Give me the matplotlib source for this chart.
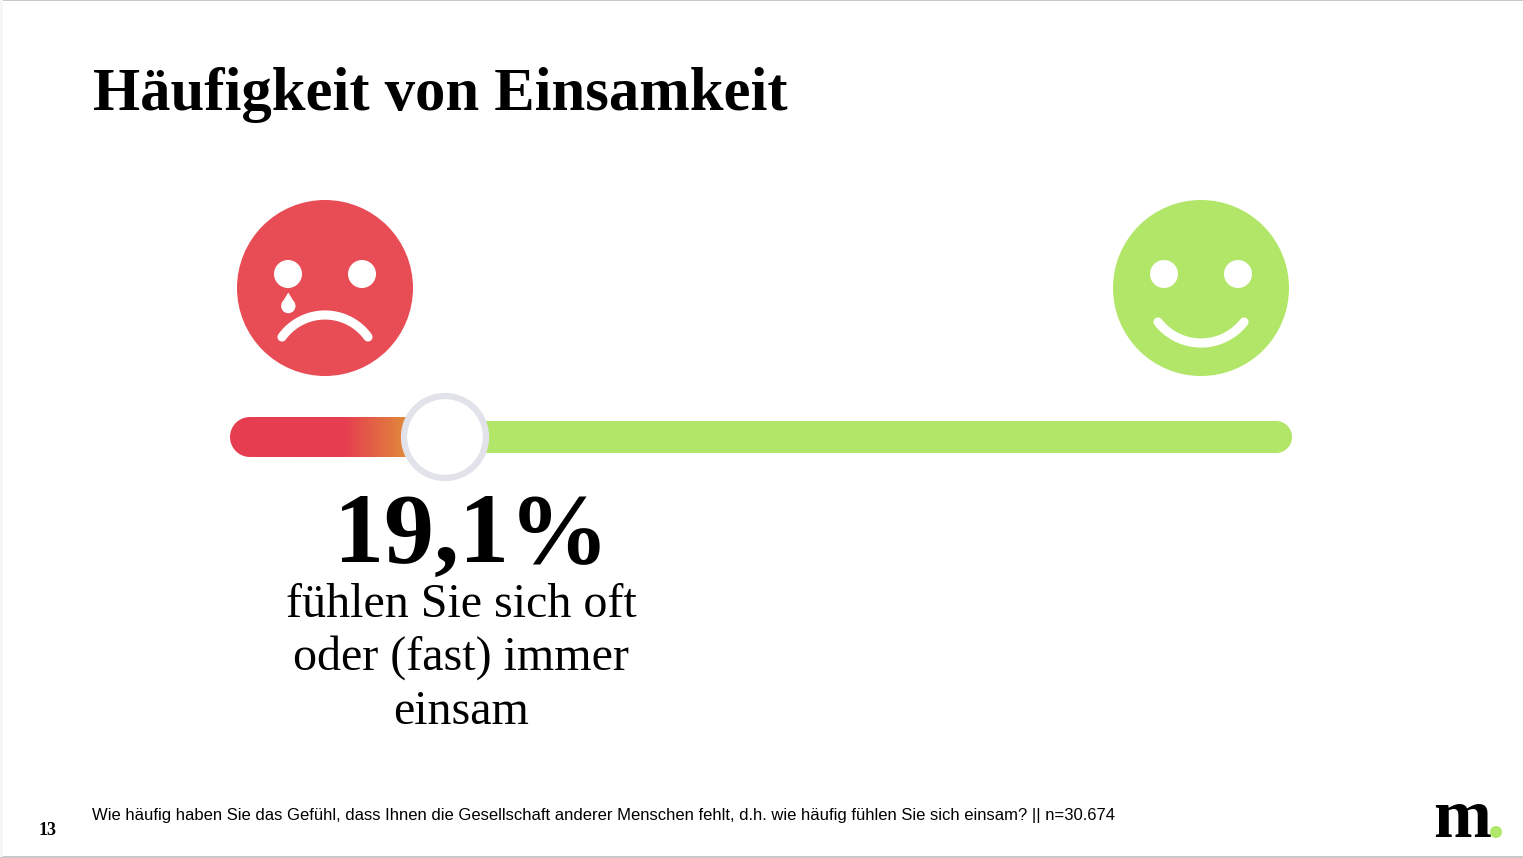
import numpy as np
import matplotlib
matplotlib.use('Agg')
import matplotlib.pyplot as plt
from matplotlib.colors import LinearSegmentedColormap
from matplotlib.patches import Circle, Polygon, Rectangle

# values from the slide
title = 'Häufigkeit von Einsamkeit'
share_lonely = 19.1
share_label = '19,1%'
caption_lines = ['fühlen Sie sich oft', 'oder (fast) immer', 'einsam']
question = ('Wie häufig haben Sie das Gefühl, dass Ihnen die Gesellschaft anderer '
            'Menschen fehlt, d.h. wie häufig fühlen Sie sich einsam? || n=30.674')
page_number = '13'
logo = 'm'

RED = '#e84c54'
BAR_RED = '#e63e50'
ORANGE = '#e08d3a'
GREEN = '#b1e669'
RING = '#e1e2ea'
SERIF = 'Liberation Serif'

plt.rcParams['font.family'] = SERIF

fig = plt.figure(figsize=(15.23, 8.58), dpi=100)
ax = fig.add_axes([0, 0, 1, 1])
ax.set_xlim(0, 1523)
ax.set_ylim(858, 0)
ax.axis('off')

# page edges
ax.add_patch(Rectangle((0, 0), 1523, 1, color='#c8c8c8', lw=0))
ax.add_patch(Rectangle((0, 856), 1523, 1.5, color='#c8c8c8', lw=0))
ax.add_patch(Rectangle((0, 0), 3, 857, color='#f6f6f6', lw=0))


def mouth(cx, y_end, y_mid, half=43):
    # circular arc through both ends and the middle point
    sag = abs(y_mid - y_end)
    r = (half ** 2 + sag ** 2) / (2 * sag)
    sign = 1 if y_mid < y_end else -1
    t = np.linspace(-np.arcsin(half / r), np.arcsin(half / r), 60)
    xs = cx + r * np.sin(t)
    ys = y_mid + sign * r * (1 - np.cos(t))
    ax.plot(xs, ys, color='white', lw=6.6, solid_capstyle='round', zorder=3)


def pill(x0, x1, y0, y1):
    # outline of a fully rounded bar
    r = (y1 - y0) / 2
    t = np.linspace(-np.pi / 2, np.pi / 2, 40)
    right = np.c_[x1 - r + r * np.cos(t), (y0 + y1) / 2 + r * np.sin(t)]
    left = np.c_[x0 + r - r * np.cos(t[::-1]), (y0 + y1) / 2 + r * np.sin(t[::-1])]
    return np.vstack([right, left])


# sad face
ax.add_patch(Circle((325, 288), 88, color=RED, lw=0))
ax.add_patch(Circle((288, 274), 14, color='white', lw=0, zorder=3))
ax.add_patch(Circle((362, 274), 14, color='white', lw=0, zorder=3))
mouth(325, 337, 315)
# tear
ax.add_patch(Circle((288.3, 306), 7.2, color='white', lw=0, zorder=3))
ax.add_patch(Polygon([(288.3, 292.5), (281.6, 303.5), (295, 303.5)], closed=True, color='white', lw=0, zorder=3))

# happy face
ax.add_patch(Circle((1201, 288), 88, color=GREEN, lw=0))
ax.add_patch(Circle((1164, 274), 14, color='white', lw=0, zorder=3))
ax.add_patch(Circle((1238, 274), 14, color='white', lw=0, zorder=3))
mouth(1201, 322, 343)

# slider, 0-100 % runs from x=246 to x=1288
knob_x = 246 + share_lonely / 100 * (1288 - 246)

ax.add_patch(Polygon(pill(400, 1292, 421, 453), closed=True, fc=GREEN, ec='none', zorder=1))

cmap = LinearSegmentedColormap.from_list('bar', [(0, BAR_RED), (115 / 180, BAR_RED), (1, ORANGE)])
grad = np.linspace(0, 1, 256).reshape(1, -1)
im = ax.imshow(grad, extent=(230, 410, 457, 417), cmap=cmap, aspect='auto', zorder=2)
clip = Polygon(pill(230, 530, 417, 457), closed=True, fc='none', ec='none')
ax.add_patch(clip)
im.set_clip_path(clip)
ax.set_xlim(0, 1523)
ax.set_ylim(858, 0)

ax.add_patch(Circle((knob_x, 437), 41, fc='white', ec=RING, lw=4.5, zorder=4))

# texts
ax.text(93, 110, title, fontsize=43.7, fontweight='bold', color='black', va='baseline')
ax.text(472, 562, share_label, fontsize=72, fontweight='bold', color='black', ha='center', va='baseline')
for y, line in zip([617, 670, 724], caption_lines):
    ax.text(461, y, line, fontsize=34.6, color='black', ha='center', va='baseline')

ax.text(92, 820, question, fontsize=12.01, family='Liberation Sans', color='black', va='baseline')
ax.text(48, 835, page_number, fontsize=13, fontweight='bold', color='black', ha='center', va='baseline')

# logo
ax.text(1462, 837, logo, fontsize=50, fontweight='bold', color='black', ha='center', va='baseline')
ax.add_patch(Circle((1496, 832), 6, color=GREEN, lw=0))

fig.savefig('out.png', dpi=100)
